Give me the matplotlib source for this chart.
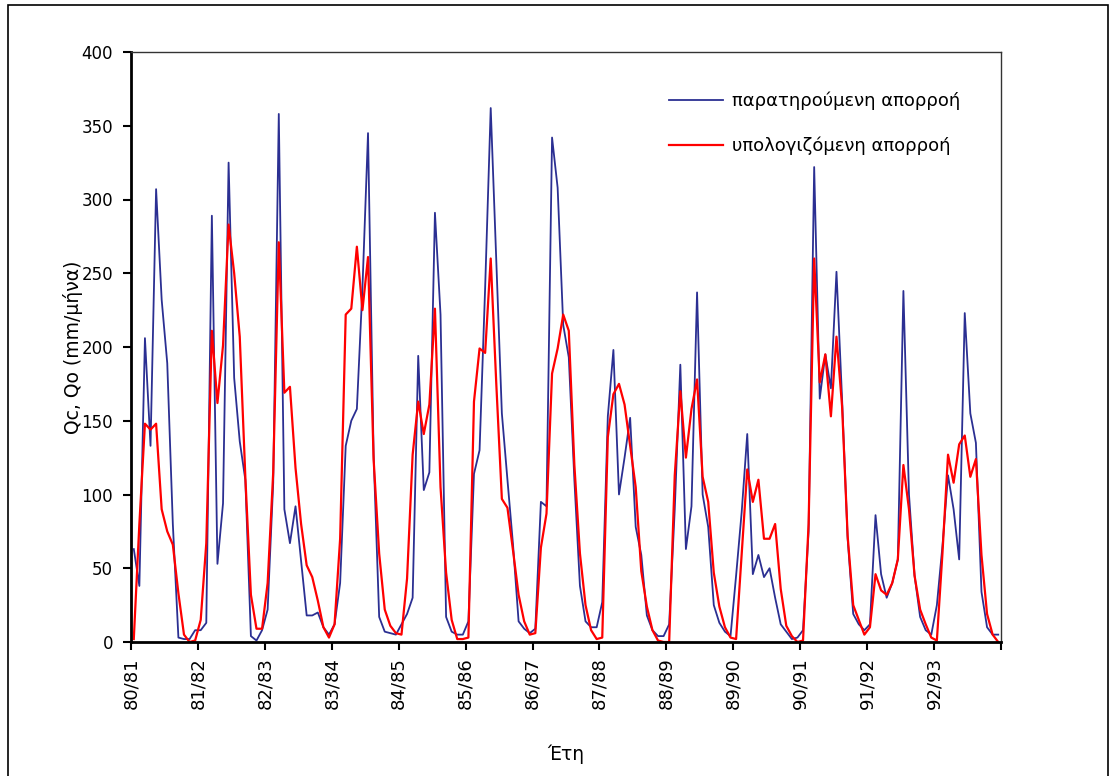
import numpy as np
import matplotlib
matplotlib.use("Agg")
import matplotlib.pyplot as plt
from matplotlib.patches import Rectangle

years = ['80/81', '81/82', '82/83', '83/84', '84/85', '85/86', '86/87',
         '87/88', '88/89', '89/90', '90/91', '91/92', '92/93']

# observed runoff, monthly (Oct..Sep) per hydrological year
observed = [
    63, 38, 206, 133, 307, 232, 189, 80, 3, 2, 2, 8,
    8, 13, 289, 53, 94, 325, 179, 136, 110, 4, 1, 8,
    22, 108, 358, 90, 67, 92, 55, 18, 18, 20, 10, 5,
    12, 40, 133, 150, 158, 240, 345, 127, 17, 7, 6, 5,
    12, 19, 30, 194, 103, 115, 291, 222, 17, 7, 5, 5,
    14, 114, 130, 240, 362, 258, 155, 110, 66, 14, 9, 6,
    9, 95, 92, 342, 308, 215, 193, 110, 38, 14, 10, 10,
    27, 153, 198, 100, 125, 152, 78, 59, 18, 8, 4, 4,
    12, 90, 188, 63, 92, 237, 100, 78, 25, 13, 7, 4,
    45, 88, 141, 46, 59, 44, 50, 30, 12, 7, 2, 3,
    8, 75, 322, 165, 195, 172, 251, 165, 70, 19, 12, 8,
    12, 86, 46, 30, 40, 56, 238, 100, 45, 17, 8, 5,
    25, 65, 113, 90, 56, 223, 155, 135, 34, 10, 5, 5,
]

# computed runoff
computed = [
    2, 80, 148, 144, 148, 90, 75, 66, 33, 5, 0, 1,
    15, 67, 211, 162, 201, 283, 250, 207, 112, 32, 9, 9,
    40, 115, 271, 169, 173, 118, 80, 52, 44, 28, 10, 3,
    12, 70, 222, 226, 268, 225, 261, 124, 60, 22, 11, 6,
    5, 43, 127, 163, 141, 161, 226, 105, 47, 15, 2, 2,
    3, 163, 199, 196, 260, 175, 97, 91, 62, 32, 14, 5,
    6, 64, 87, 182, 199, 222, 211, 120, 60, 25, 8, 2,
    3, 139, 168, 175, 161, 133, 105, 48, 24, 8, 1, 0,
    0, 113, 170, 125, 158, 178, 112, 95, 47, 24, 10, 3,
    2, 60, 117, 95, 110, 70, 70, 80, 36, 11, 4, 0,
    1, 80, 260, 176, 195, 153, 207, 160, 72, 25, 15, 5,
    10, 46, 35, 32, 40, 56, 120, 90, 45, 22, 12, 3,
    1, 60, 127, 108, 134, 140, 112, 124, 59, 19, 5, 0,
]

n = len(observed)
x = np.arange(n) + 0.5

W, H = 1118, 776
fig = plt.figure(figsize=(W / 100, H / 100), dpi=100)
# outer frame (bottom edge runs off the picture)
fig.patches.append(Rectangle((8 / W, -10 / H), 1100 / W, 781 / H, transform=fig.transFigure,
                             fill=False, edgecolor='black', linewidth=1.2))

ax = fig.add_axes([131 / W, 1 - 642 / H, 870 / W, 590 / H])
ax.plot(x, observed, color='#2b2f92', linewidth=1.3, label='παρατηρούμενη απορροή')
ax.plot(x, computed, color='#ff0000', linewidth=1.6, label='υπολογιζόμενη απορροή')

ax.set_xlim(0, n)
ax.set_ylim(0, 400)
ax.set_yticks(range(0, 401, 50))
ax.set_xticks(np.arange(0, n + 1, 12))
ax.set_xticklabels(years + [''], rotation=90)
ax.tick_params(axis='both', direction='out', length=6, width=1.5, labelsize=12, colors='black')
ax.tick_params(axis='x', pad=5, labelsize=13)
ax.tick_params(axis='y', pad=7)

for s in ['left', 'bottom']:
    ax.spines[s].set_linewidth(2)
for s in ['top', 'right']:
    ax.spines[s].set_linewidth(1)
    ax.spines[s].set_color('#333333')

ax.set_ylabel('Qc, Qo (mm/μήνα)', fontsize=13.5, labelpad=-1)
ax.set_xlabel('Έτη', fontsize=13.5, labelpad=25)

ax.legend(loc='upper left', bbox_to_anchor=(0.6, 0.96), frameon=False, fontsize=13,
          handlelength=3.0, handletextpad=0.5, labelspacing=1.45)

fig.savefig('out.png', dpi=100)
